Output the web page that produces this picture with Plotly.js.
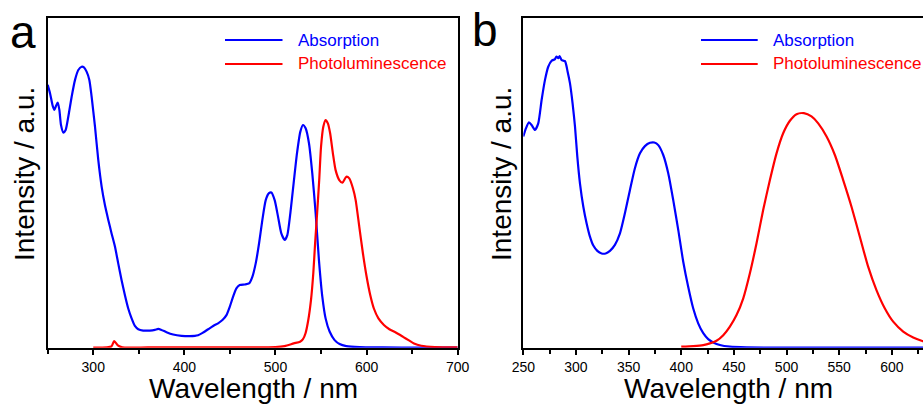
<!DOCTYPE html>
<html>
<head>
<meta charset="utf-8">
<script src="https://cdn.plot.ly/plotly-3.0.1.min.js"></script>
<style>html,body{margin:0;padding:0;background:#fff;}#chart{width:923px;height:405px;}</style>
</head>
<body>
<div id="chart"></div>
<script>
// Panel a: absorption
const aAbsWl = [250,252.6,255.5,257.3,259.1,261,262.8,264.6,267.2,269.7,272.6,276.3,280,283.6,287.3,289.8,292.7,295.7,298.2,301.9,305.5,309.2,312.8,316.5,320.1,323.8,327.4,331.1,334.7,338.4,342.1,345.7,349.4,354.8,362.1,367.6,371.3,374.9,380.4,387.7,396.9,406,415.1,420.6,426.1,431.6,437,441.8,446.2,449.8,453.5,457.1,460.8,466.3,471,474.7,478.3,482,485.6,489.3,492.9,495.5,499.1,502.8,506.4,510.1,513,516.3,519.9,523.6,527.3,530.2,533.1,536.8,540.4,544.1,547.7,551.4,555,559.4,564.9,570.4,577.7,592.3,617.9,658,700];
const aAbs = [0.798,0.772,0.734,0.722,0.734,0.744,0.722,0.676,0.653,0.661,0.701,0.762,0.813,0.843,0.853,0.851,0.838,0.813,0.762,0.671,0.570,0.489,0.433,0.388,0.347,0.307,0.256,0.205,0.160,0.119,0.089,0.066,0.056,0.052,0.052,0.054,0.057,0.054,0.047,0.040,0.036,0.035,0.038,0.046,0.056,0.066,0.074,0.084,0.099,0.124,0.155,0.180,0.190,0.192,0.195,0.216,0.256,0.317,0.388,0.448,0.469,0.471,0.448,0.398,0.347,0.327,0.342,0.408,0.499,0.590,0.656,0.676,0.666,0.620,0.529,0.408,0.266,0.155,0.089,0.049,0.023,0.011,0.005,0.002,0.001,0.0,0.0];
// Panel a: photoluminescence
const aPLWl = [300,315,320,323,327,332,360,400,450,500,510,520,527,530,533,536,539,541.5,543.5,545.7,548,550,552.5,555,557.5,560,563,566,570,573.5,577.7,581,585,588,592,596,600,604,608,613,619,625,632,640,646,652,660,675,700];
const aPL = [0.0,0.001,0.004,0.020,0.007,0.001,0.001,0.001,0.001,0.002,0.005,0.013,0.018,0.025,0.044,0.084,0.145,0.226,0.317,0.408,0.509,0.610,0.671,0.691,0.681,0.651,0.590,0.539,0.509,0.501,0.519,0.514,0.484,0.448,0.367,0.286,0.216,0.160,0.119,0.089,0.069,0.056,0.046,0.033,0.023,0.013,0.006,0.002,0.001];
// Panel b: absorption
const bAbsWl = [250,252.5,255.4,257.9,261.1,264.2,267.4,270.6,273.7,276.9,280.1,281.5,283.2,284.5,286.4,289.6,292.1,294.3,296.8,299.1,301.3,303.8,307,310.1,313.3,316.5,320.3,324.4,328.2,332.3,337,341.8,346.5,351.3,356,360.8,365.5,370.3,374.4,378.2,382.9,387.7,392.4,397.2,401.9,406.6,411.4,416.1,420.9,425.6,430.4,436.7,446.2,462,506,560,640];
const bAbs = [0.641,0.666,0.684,0.676,0.661,0.681,0.752,0.813,0.853,0.871,0.876,0.884,0.879,0.885,0.873,0.870,0.838,0.803,0.742,0.671,0.580,0.499,0.428,0.378,0.337,0.310,0.294,0.286,0.286,0.294,0.312,0.347,0.408,0.479,0.545,0.590,0.612,0.622,0.623,0.615,0.585,0.529,0.448,0.357,0.261,0.185,0.119,0.074,0.044,0.026,0.016,0.008,0.003,0.001,0.0,0.0,0.0];
// Panel b: photoluminescence
const bPLWl = [400,411.4,420.9,427.2,433.5,439.9,446.2,452.5,458.9,465.2,471.5,477.8,484.2,490.5,496.8,503.2,509.5,516.5,523.7,530.1,538,545.9,553.8,561.7,569.6,577.5,585.4,593.4,601.3,610.8,620.3,628.2,640,650];
const bPL = [0.003,0.005,0.008,0.013,0.021,0.038,0.064,0.099,0.150,0.226,0.317,0.418,0.509,0.590,0.651,0.689,0.709,0.712,0.702,0.681,0.641,0.585,0.509,0.428,0.337,0.246,0.175,0.119,0.079,0.049,0.031,0.021,0.010,0.005];

const seriesNames = ['Absorption','Photoluminescence'];
const panelLetters = ['a','b'];
const xTitle = 'Wavelength / nm';
const yTitle = 'Intensity / a.u.';

const BLUE = '#0000ff', RED = '#ff0000';
const FONT = 'Liberation Sans, Arial, sans-serif';

const traces = [
  {x:aAbsWl, y:aAbs, xaxis:'x', yaxis:'y', mode:'lines', line:{color:BLUE,width:2.2,shape:'spline',smoothing:0.6}, name:seriesNames[0], showlegend:false},
  {x:aPLWl, y:aPL, xaxis:'x', yaxis:'y', mode:'lines', line:{color:RED,width:2.2,shape:'spline',smoothing:0.6}, name:seriesNames[1], showlegend:false},
  {x:bAbsWl, y:bAbs, xaxis:'x2', yaxis:'y2', mode:'lines', line:{color:BLUE,width:2.2,shape:'spline',smoothing:0.6}, name:seriesNames[0], showlegend:false},
  {x:bPLWl, y:bPL, xaxis:'x2', yaxis:'y2', mode:'lines', line:{color:RED,width:2.2,shape:'spline',smoothing:0.6}, name:seriesNames[1], showlegend:false}
];

const W = 923, H = 405;
const px = v => v / W;
const py = v => 1 - v / H;

const axX = (dom, range, dtick, minor, mirror) => ({
  domain: dom, range: range, showline: true, linecolor: '#000', linewidth: 2,
  mirror: mirror, ticks: 'outside', ticklen: 5, tickwidth: 2, tickcolor: '#000',
  tick0: 300, dtick: dtick, showgrid: false, zeroline: false,
  minor: {dtick: minor, ticks: 'outside', ticklen: 4, tickwidth: 2, tickcolor: '#000', showgrid: false},
  tickfont: {family: FONT, size: 14, color: '#000'}, fixedrange: true
});
const axY = (dom, anchor, mirror) => ({
  domain: dom, range: [0, 1], anchor: anchor, showline: true, linecolor: '#000', linewidth: 2,
  mirror: mirror, ticks: '', showticklabels: false, showgrid: false, zeroline: false, fixedrange: true
});

const yDom = [py(347.7), py(18.3)];
const layout = {
  width: W, height: H, margin: {l:0, r:0, t:0, b:0},
  paper_bgcolor: '#fff', plot_bgcolor: '#fff', showlegend: false,
  xaxis: Object.assign(axX([px(47.7), px(457.7)], [250, 700], 100, 50, true), {anchor:'y'}),
  yaxis: axY(yDom, 'x', true),
  xaxis2: Object.assign(axX([px(523.3), 1], [250, 629.6], 50, 25, true), {anchor:'y2'}),
  yaxis2: axY(yDom, 'x2', false),
  shapes: [],
  annotations: []
};

// legends (sample lines + labels)
const legendPos = [{x0:225, x1:282.5, tx:296}, {x0:701, x1:757.7, tx:771}];
const legendY = [40, 64];
const colors = [BLUE, RED];
legendPos.forEach(p => {
  seriesNames.forEach((nm, i) => {
    layout.shapes.push({type:'line', xref:'paper', yref:'paper', x0:px(p.x0), x1:px(p.x1), y0:py(legendY[i]), y1:py(legendY[i]), line:{color:colors[i], width:2.2}});
    layout.annotations.push({text:nm, xref:'paper', yref:'paper', x:px(p.tx), y:py(legendY[i]), xanchor:'left', yanchor:'middle', showarrow:false, font:{family:FONT, size:17, color:colors[i]}});
  });
});

// panel letters
[[23, 32], [485, 30]].forEach((c, i) => {
  layout.annotations.push({text:panelLetters[i], xref:'paper', yref:'paper', x:px(c[0]), y:py(c[1]), xanchor:'center', yanchor:'middle', showarrow:false, font:{family:FONT, size:46, color:'#000'}});
});

// axis titles
[[253.5, 388], [728, 388]].forEach(c => {
  layout.annotations.push({text:xTitle, xref:'paper', yref:'paper', x:px(c[0]), y:py(c[1]), xanchor:'center', yanchor:'middle', showarrow:false, font:{family:FONT, size:28, color:'#000'}});
});
[[25, 174], [502, 174]].forEach(c => {
  layout.annotations.push({text:yTitle, xref:'paper', yref:'paper', x:px(c[0]), y:py(c[1]), xanchor:'center', yanchor:'middle', textangle:-90, showarrow:false, font:{family:FONT, size:28, color:'#000'}});
});

Plotly.newPlot('chart', traces, layout, {staticPlot:true, displayModeBar:false});
</script>
</body>
</html>
